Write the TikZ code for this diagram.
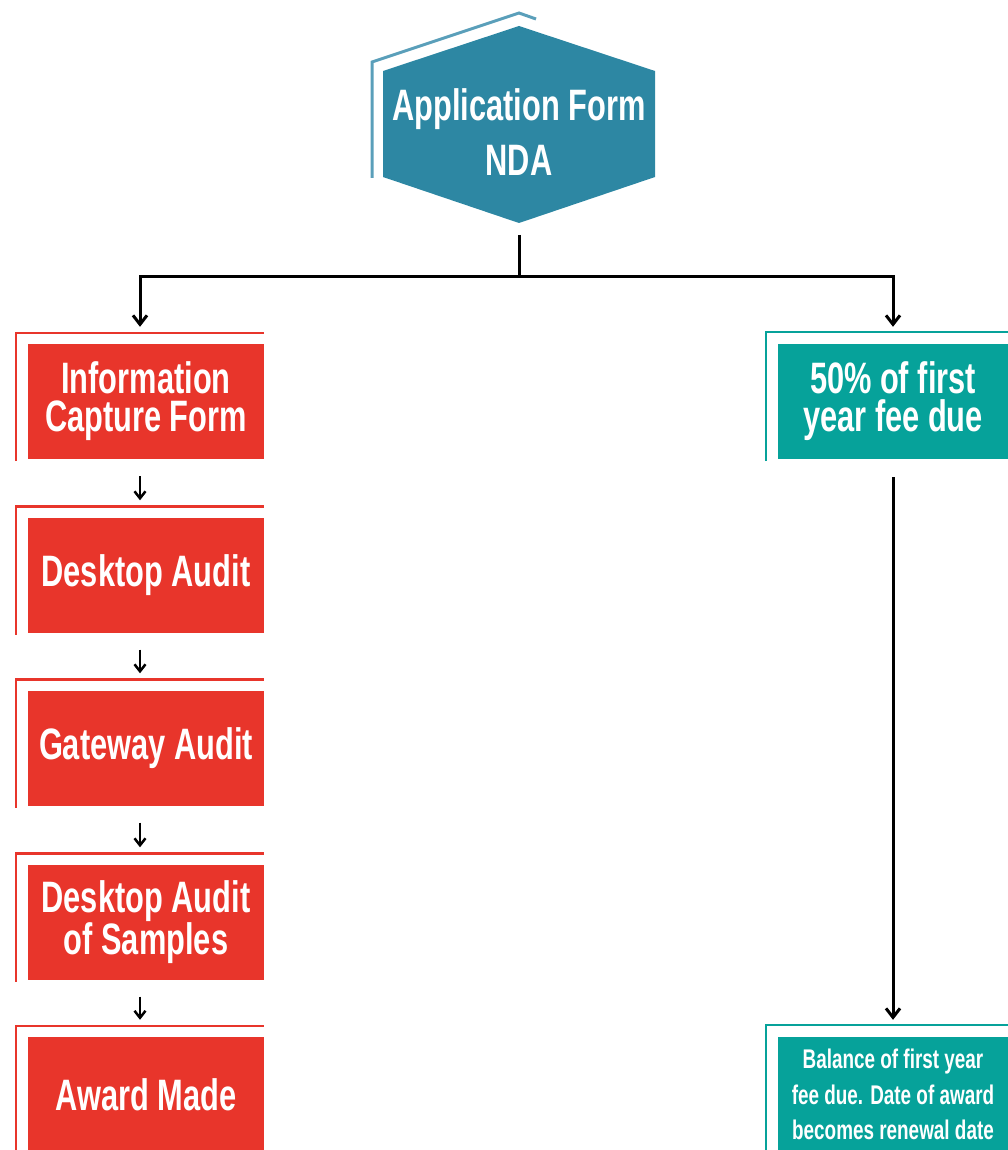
\documentclass[tikz,border=0pt]{standalone}
\usepackage{fontspec}
\setmainfont[FakeStretch=0.7]{Liberation Sans}
\usetikzlibrary{arrows.meta,calc}
\definecolor{hexblue}{HTML}{2D87A3}
\definecolor{hexline}{HTML}{5A9FBA}
\definecolor{boxred}{HTML}{E8352B}
\definecolor{boxteal}{HTML}{06A29A}
\begin{document}
\begin{tikzpicture}[x=1pt,y=-1pt,
  redbox/.style={fill=boxred, text=white, minimum width=236pt, minimum height=115pt, inner sep=0pt, align=center,
    font=\bfseries\fontsize{44}{38}\selectfont},
  tealbox/.style={fill=boxteal, text=white, minimum width=230pt, minimum height=115pt, inner sep=0pt, align=center,
    font=\bfseries\fontsize{44}{38}\selectfont},
  redline/.style={draw=boxred, line width=2.5pt},
  tealline/.style={draw=boxteal, line width=2.5pt},
  conn/.style={draw=black, line width=3pt, -{Straight Barb[length=9pt,width=14pt,line width=3pt]}},
  smallconn/.style={draw=black, line width=2.5pt, -{Straight Barb[length=7pt,width=11pt,line width=2.5pt]}}
]
\useasboundingbox (0,0) rectangle (1008,1150);
\clip (0,0) rectangle (1008,1150);
% hexagon
\draw[hexline, line width=3pt] (372,178) -- (372,62) -- (519,13) -- (536,19);
\fill[hexblue] (519,26) -- (655,71) -- (655,177) -- (519,223) -- (383,177) -- (383,71) -- cycle;
\node[text=white, align=center, font=\bfseries\fontsize{44}{55}\selectfont] (hex) at (519,132) {Application Form\\NDA};
\coordinate (hexout) at (519,235);
% red boxes
\node[redbox] (b1) at (146,401.5) {Information\\Capture Form};
\node[redbox] (b2) at (146,575) {Desktop Audit};
\node[redbox] (b3) at (146,748) {Gateway Audit};
\node[redbox] (b4) at (146,922) {Desktop Audit\\of Samples};
\node[redbox] (b5) at (146,1094.5) {Award Made};
\foreach \b in {b1,b2,b3,b4,b5}{
  \draw[redline] ([xshift=-12pt,yshift=-2pt]\b.south west) |- ([yshift=11pt]\b.north east);
}
% teal boxes
\node[tealbox] (t1) at (893,401.5) {50\% of first\\year fee due};
\node[tealbox, font=\bfseries\fontsize{27}{35.5}\selectfont] (t2) at (893,1094.5) {Balance of first year\\fee due. Date of award\\becomes renewal date};
\foreach \b in {t1,t2}{
  \draw[tealline] ([xshift=-12pt,yshift=-2pt]\b.south west) |- ([yshift=12pt]\b.north east);
}
% connectors
\draw[line width=3pt] (hexout) -- (519,276);
\draw[conn] (519,276) -| ([xshift=-6pt,yshift=17pt]b1.north);
\draw[conn] (519,276) -| ([yshift=17pt]t1.north);
\draw[smallconn] ([xshift=-6pt,yshift=-17pt]b1.south) -- ([xshift=-6pt,yshift=17pt]b2.north);
\draw[smallconn] ([xshift=-6pt,yshift=-17pt]b2.south) -- ([xshift=-6pt,yshift=17pt]b3.north);
\draw[smallconn] ([xshift=-6pt,yshift=-17pt]b3.south) -- ([xshift=-6pt,yshift=17pt]b4.north);
\draw[smallconn] ([xshift=-6pt,yshift=-17pt]b4.south) -- ([xshift=-6pt,yshift=17pt]b5.north);
\draw[conn] ([yshift=-18pt]t1.south) -- ([yshift=17pt]t2.north);
\end{tikzpicture}
\end{document}
